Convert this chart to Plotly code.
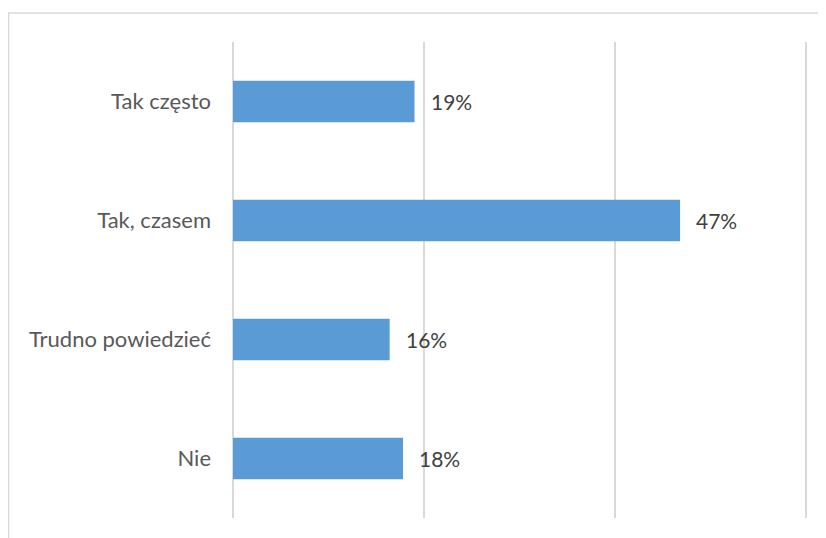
import plotly.graph_objects as go

categories = ["Tak często", "Tak, czasem", "Trudno powiedzieć", "Nie"]
values = [19.0, 46.8, 16.4, 17.8]
labels = ["19%", "47%", "16%", "18%"]

fig = go.Figure()
fig.add_trace(go.Bar(
    y=categories, x=values, orientation="h",
    marker=dict(color="#5B9BD5", line=dict(width=0)),
    hoverinfo="skip",
))

for c, v, t in zip(categories, values, labels):
    fig.add_annotation(x=v, y=c, text=t, showarrow=False, xanchor="left",
                       xshift=14, font=dict(family="Lato", size=21, color="#404040"))

fig.add_shape(type="rect", xref="paper", yref="paper",
              x0=-0.3891, x1=1.2, y0=-0.2, y1=1.0609,
              line=dict(color="#D9D9D9", width=1.5), fillcolor="rgba(0,0,0,0)", layer="below")

fig.update_layout(
    width=826, height=538,
    margin=dict(l=225, r=24, t=34, b=28),
    paper_bgcolor="white", plot_bgcolor="white",
    bargap=0.65,
    showlegend=False,
    font=dict(family="Lato", size=22, color="#595959"),
    xaxis=dict(range=[0, 60.4], tickvals=[0, 20, 40, 60], showgrid=True, gridcolor="#D9D9D9", gridwidth=1.5,
               showticklabels=False, zeroline=True, zerolinecolor="#D9D9D9", zerolinewidth=1.5,
               showline=False, fixedrange=True),
    yaxis=dict(autorange="reversed", showgrid=False, showline=False, ticks="",
               ticklabelstandoff=21, tickfont=dict(family="Lato", size=22, color="#595959")),
)

fig.write_html("out.html")
